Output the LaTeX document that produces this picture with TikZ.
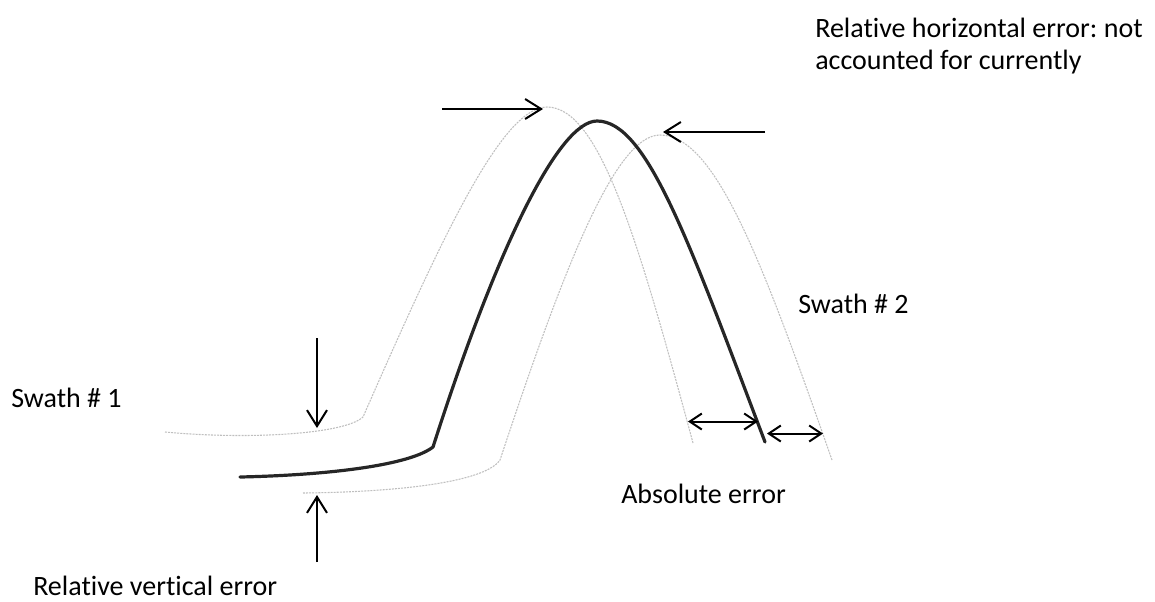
\documentclass[tikz,border=0pt]{standalone}
\usepackage{fontspec}
\setmainfont[Ligatures=NoCommon]{Carlito}
\usetikzlibrary{arrows.meta}
\frenchspacing
\begin{document}
\begin{tikzpicture}[x=0.75pt,y=-0.75pt,
  swath/.style={draw=gray!50, line width=0.8pt, dash pattern=on 1.5pt off 0.8pt, line join=round},
  mainline/.style={draw=black!85, line width=2.4pt, line join=round, line cap=round},
  arr/.style={draw=black, line width=1.5pt, -{Straight Barb[length=12pt,width=15pt]}},
  darr/.style={draw=black, line width=1.5pt, {Straight Barb[length=9pt,width=12pt]}-{Straight Barb[length=9pt,width=12pt]}},
  lbl/.style={anchor=base west, inner sep=0pt, font=\fontsize{21}{24}\selectfont}]
\useasboundingbox (0,0) rectangle (1155,601);

% swath 1 (upper-left, gray)
\draw[swath] (165,432) .. controls (250,440) and (345,434) .. (363,417)
  .. controls (442,237) and (502,107) .. (547,107)
  .. controls (600,107) and (639,243) .. (693,443);

% swath 2 (lower-right, gray)
\draw[swath] (303,493) .. controls (400,492) and (485,482) .. (500,460)
  .. controls (563,270) and (615,135) .. (660,135)
  .. controls (715,135) and (762,260) .. (832,460);

% main surface (black)
\draw[mainline] (240,477) .. controls (330,475) and (410,465) .. (433,447)
  .. controls (497,247) and (559,121) .. (597,121)
  .. controls (647,121) and (689,242) .. (765,442);

% arrows
\coordinate (a1s) at (442,109); \coordinate (a1e) at (543,109);
\coordinate (a2s) at (765,132); \coordinate (a2e) at (663,132);
\coordinate (a3s) at (317,338); \coordinate (a3e) at (317,428);
\coordinate (a4s) at (317,562); \coordinate (a4e) at (317,495);
\coordinate (d1s) at (688,421.5); \coordinate (d1e) at (758,421.5);
\coordinate (d2s) at (767,433.5); \coordinate (d2e) at (823,433.5);
\draw[arr] (a1s) -- (a1e);
\draw[arr] (a2s) -- (a2e);
\draw[arr] (a3s) -- (a3e);
\draw[arr] (a4s) -- (a4e);
\draw[darr] (d1s) -- (d1e);
\draw[darr] (d2s) -- (d2e);

% labels
\node[lbl] (hz1) at (815,37) {Relative horizontal error: not};
\node[lbl] (hz2) at (815,69) {accounted for currently};
\node[lbl] (sw2) at (798,313) {Swath \# 2};
\node[lbl] (sw1) at (11,407) {Swath \# 1};
\node[lbl] (abs) at (621,503) {Absolute error};
\node[lbl] (rve) at (33,595) {Relative vertical error};
\end{tikzpicture}
\end{document}
